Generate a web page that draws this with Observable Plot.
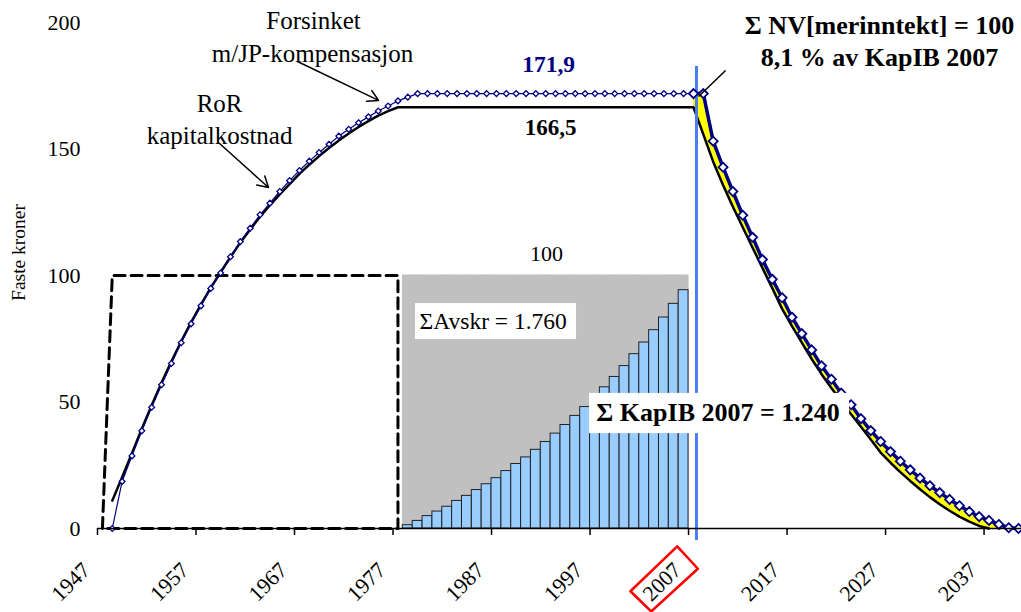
<!DOCTYPE html>
<html>
<head>
<meta charset="utf-8">
<script src="https://cdn.jsdelivr.net/npm/d3@7"></script>
<script src="https://cdn.jsdelivr.net/npm/@observablehq/plot@0.6"></script>
<style>
  html, body { margin: 0; padding: 0; background: #fff; }
  #chart svg { display: block; }
</style>
</head>
<body>
<div id="chart"></div>
<script>
// ---------- data ----------
const FONT = '"Liberation Serif", "Times New Roman", Times, serif';

// first category year of the curves
const curveStartYear = 1948;

// RoR kapitalkostnad (black line), 1948..2037
const rorKapitalkostnad = [
  11.0, 20.3, 29.8, 39.4, 48.7, 57.6, 66.0, 74.0, 81.5, 88.5,
  95.2, 101.3, 107.3, 113.0, 118.2, 123.2, 127.8, 132.1, 136.1, 140.2,
  143.8, 147.2, 150.4, 153.4, 156.1, 158.7, 161.0, 163.2, 165.0, 166.5,
  166.5, 166.5, 166.5, 166.5, 166.5, 166.5, 166.5, 166.5, 166.5, 166.5,
  166.5, 166.5, 166.5, 166.5, 166.5, 166.5, 166.5, 166.5, 166.5, 166.5,
  166.5, 166.5, 166.5, 166.5, 166.5, 166.5, 166.5, 166.5, 166.5, 166.5,
  155.8, 145.0, 135.8, 127.2, 119.1, 111.0, 103.0, 95.0, 86.8, 80.0,
  73.5, 67.0, 61.0, 55.5, 50.3, 45.2, 40.2, 35.2, 30.0, 26.0,
  22.3, 18.8, 15.5, 12.4, 9.6, 7.0, 4.7, 2.7, 1.0, 0
];

// Forsinket m/JP-kompensasjon, history 1948..2007 (small markers)
const forsinketHist = [
  0, 18.6, 28.7, 38.6, 47.9, 56.8, 65.2, 73.4, 80.9, 88.0,
  94.9, 101.0, 107.4, 113.4, 118.7, 124.0, 128.6, 133.2, 137.5, 141.5,
  145.2, 148.6, 151.9, 155.1, 157.8, 160.4, 162.7, 165.0, 167.0, 169.0,
  170.5, 171.9, 171.9, 171.9, 171.9, 171.9, 171.9, 171.9, 171.9, 171.9,
  171.9, 171.9, 171.9, 171.9, 171.9, 171.9, 171.9, 171.9, 171.9, 171.9,
  171.9, 171.9, 171.9, 171.9, 171.9, 171.9, 171.9, 171.9, 171.9, 171.9
];

// Forsinket m/JP-kompensasjon, future 2007..2040 (large markers)
const futureStartYear = 2007;
const forsinketFuture = [
  171.9, 171.9, 153.1, 142.8, 133.2, 123.8, 115.1, 106.3, 98.5, 91.2,
  83.5, 77.0, 70.6, 64.3, 59.0, 53.5, 48.9, 43.4, 38.7, 34.4,
  30.4, 26.6, 23.2, 19.9, 16.9, 14.2, 11.5, 9.0, 6.7, 4.7,
  3.2, 1.6, 0.3, 0
];

// Depreciation bars 1978..2006 and the 100-level grey block
const barStartYear = 1978;
const avskrivninger = [
  1.3, 3.0, 4.9, 6.7, 8.6, 10.9, 12.9, 15.2, 17.5, 19.9,
  22.7, 25.5, 28.1, 31.1, 34.2, 37.5, 40.9, 44.5, 48.0, 51.8,
  55.8, 59.9, 64.2, 68.9, 73.5, 78.4, 83.4, 88.8, 94.2
];
const investering = 100;

// Dashed investment outline (year, value)
const dashYears = [1947, 1948, 1977, 1977, 1947];
const dashValues = [0, 100, 100, 0, 0];

// Axis
const tickLabels = [1947, 1957, 1967, 1977, 1987, 1997, 2007, 2017, 2027, 2037];
const yTicks = [0, 50, 100, 150, 200];
const cutYear = 2007;

// ---------- tables ----------
const ror = rorKapitalkostnad.map((v, i) => ({year: curveStartYear + i, value: v}));
const hist = forsinketHist.map((v, i) => ({year: curveStartYear + i, value: v}));
const fut = forsinketFuture.map((v, i) => ({year: futureStartYear + i, value: v}));
const bars = avskrivninger.map((v, i) => ({year: barStartYear + i, value: v, full: investering}));
const dash = dashYears.map((y, i) => ({year: y, value: dashValues[i]}));
const rorByYear = new Map(ror.map(d => [d.year, d.value]));
const band = fut.map(d => ({year: d.year, lo: rorByYear.has(d.year) ? rorByYear.get(d.year) : 0, hi: d.value}));
const tickPositions = tickLabels.map(t => t - 0.5); // ticks sit on category boundaries

// annotation placements (data coordinates)
const redBox = [
  {year: 2005.35, value: -7.1}, {year: 2007.45, value: -15.9},
  {year: 2002.71, value: -32.8}, {year: 2000.60, value: -24.8},
  {year: 2005.35, value: -7.1}
];

const chart = Plot.plot({
  width: 1021,
  height: 612,
  marginLeft: 97,
  marginRight: 0,
  marginTop: 22,
  marginBottom: 84,
  x: {type: "linear", domain: [1946.5, 2040.3]},
  y: {domain: [0, 200]},
  style: {fontFamily: FONT, fontSize: "20px", color: "#000", background: "#fff", overflow: "visible"},
  marks: [
    // grey block and depreciation bars
    Plot.rectY(bars, {x1: d => d.year - 0.5, x2: d => d.year + 0.5, y: "full", fill: "#c0c0c0", stroke: "#c0c0c0", strokeWidth: 1}),
    Plot.rectY(bars, {x1: d => d.year - 0.5, x2: d => d.year + 0.5, y: "value", fill: "#99ccff", stroke: "#222", strokeWidth: 1}),
    // dashed investment outline
    Plot.line(dash, {x: "year", y: "value", stroke: "#000", strokeWidth: 3, strokeDasharray: "11,6", clip: false}),
    // yellow band between curves
    Plot.areaY(band, {x: "year", y1: "lo", y2: "hi", fill: "#ffff00"}),
    // black RoR line
    Plot.line(ror, {x: "year", y: "value", stroke: "#000", strokeWidth: 2.5}),
    // blue history line
    Plot.line(hist, {x: "year", y: "value", stroke: "#000080", strokeWidth: 1.2}),
    Plot.dot(hist, {x: "year", y: "value", symbol: "diamond2", r: 2.6, fill: "#fff", stroke: "#000080", strokeWidth: 1.3}),
    // blue vertical cut line
    Plot.ruleX([cutYear], {dx: 3, y1: -4.7, y2: 182.6, stroke: "#4a7cf2", strokeWidth: 3, clip: false}),
    // blue future line
    Plot.line(fut, {x: "year", y: "value", stroke: "#000080", strokeWidth: 3.5}),
    Plot.dot(fut, {x: "year", y: "value", symbol: "diamond2", r: 4.1, fill: "#fff", stroke: "#000080", strokeWidth: 1.8, clip: false}),
    // axes
    Plot.ruleY([0], {stroke: "#000", strokeWidth: 1.5}),
    Plot.axisX({ticks: tickPositions, tickFormat: () => "", tickSize: 7, label: null, stroke: "#000", strokeWidth: 1.5}),
    Plot.axisX({ticks: tickPositions, tickFormat: d => String(Math.round(d + 0.5)), tickSize: 0, tickRotate: -45, tickPadding: 23, dx: -11, dy: 15, fontSize: 22, fontFamily: FONT, label: null}),
    Plot.axisY({ticks: yTicks, tickSize: 0, tickPadding: 17, fontSize: 22, fontFamily: FONT, label: null}),
    Plot.text(["Faste kroner"], {x: 1938.5, y: 109.1, rotate: -90, fontSize: 19.5, fontFamily: FONT, clip: false}),
    // red box around 2007 label
    Plot.line(redBox, {x: "year", y: "value", stroke: "#ff0000", strokeWidth: 2.5, clip: false}),
    // annotations
    Plot.text(["Forsinket"], {x: 1968.43, y: 200.4, fontSize: 25, fontFamily: FONT, clip: false}),
    Plot.text(["m/JP-kompensasjon"], {x: 1968.33, y: 187.7, fontSize: 25, fontFamily: FONT}),
    Plot.arrow([0], {x1: 1966.8, y1: 184.6, x2: 1975.03, y2: 169.2, stroke: "#000", strokeWidth: 1.5, headLength: 12}),
    Plot.text(["RoR"], {x: 1958.89, y: 167.6, fontSize: 25, fontFamily: FONT}),
    Plot.text(["kapitalkostnad"], {x: 1958.89, y: 155.3, fontSize: 25, fontFamily: FONT}),
    Plot.arrow([0], {x1: 1958.89, y1: 152.2, x2: 1963.86, y2: 134.8, stroke: "#000", strokeWidth: 1.5, headLength: 12}),
    Plot.text(["171,9"], {x: 1992.29, y: 183.4, fontSize: 23.5, fontWeight: "bold", fontFamily: FONT, fill: "#000080"}),
    Plot.text(["166,5"], {x: 1992.49, y: 158.3, fontSize: 23, fontWeight: "bold", fontFamily: FONT}),
    Plot.text(["100"], {x: 1992.08, y: 108.7, fontSize: 22, fontFamily: FONT}),
    Plot.rect([0], {x1: 1978.78, x2: 1995.13, y1: 74.7, y2: 88.9, fill: "#fff"}),
    Plot.text(["ΣAvskr = 1.760"], {x: 1979.2, y: 81.8, fontSize: 23.5, fontFamily: FONT, textAnchor: "start"}),
    Plot.rect([0], {x1: 1996.45, x2: 2022.85, y1: 37.5, y2: 53.4, fill: "#fff"}),
    Plot.text(["Σ KapIB 2007 = 1.240"], {x: 2009.5, y: 45.6, fontSize: 26, fontWeight: "bold", fontFamily: FONT}),
    Plot.link([0], {x1: 2010.26, y1: 181.0, x2: 2007.52, y2: 170.75, stroke: "#000", strokeWidth: 1.5, clip: false}),
    Plot.text(["Σ NV[merinntekt] = 100"], {x: 2025.89, y: 198.8, fontSize: 26, fontWeight: "bold", fontFamily: FONT, clip: false}),
    Plot.text(["8,1 % av KapIB 2007"], {x: 2025.89, y: 186.2, fontSize: 26, fontWeight: "bold", fontFamily: FONT})
  ]
});
document.getElementById("chart").appendChild(chart);
</script>
</body>
</html>
